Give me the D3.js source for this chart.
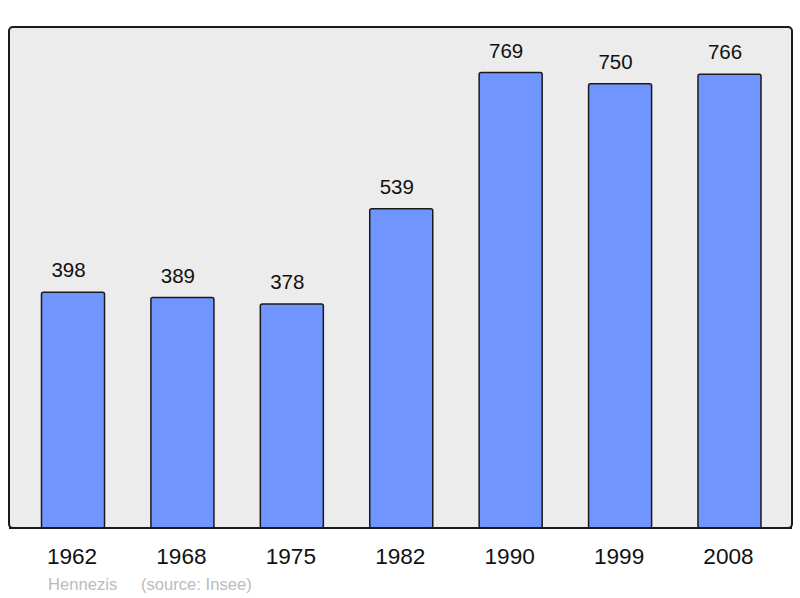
<!DOCTYPE html>
<html>
<head>
<meta charset="utf-8">
<script src="https://cdn.jsdelivr.net/npm/d3@7"></script>
<style>
  body { margin: 0; background: #fff; }
  svg { display: block; font-family: "Liberation Sans", Arial, sans-serif; }
</style>
</head>
<body>
<svg id="chart"></svg>
<script>
const width = 800;
const height = 598;

// population by census year
const years = ["1962", "1968", "1975", "1982", "1990", "1999", "2008"];
const population = [398, 389, 378, 539, 769, 750, 766];
const footerTexts = ["Hennezis", "(source: Insee)"];

const panel = {left: 9, top: 27, right: 792, bottom: 528};

const svg = d3.select("#chart")
  .attr("width", width)
  .attr("height", height);

const x = d3.scaleBand()
  .domain(years)
  .range([18.3, 784.2])
  .paddingInner(0.424)
  .paddingOuter(0.212);

const y = d3.scaleLinear()
  .domain([0, d3.max(population) * 1.1])
  .range([panel.bottom, panel.top]);

// background panel
svg.append("rect")
  .attr("x", panel.left)
  .attr("y", panel.top)
  .attr("width", panel.right - panel.left)
  .attr("height", panel.bottom - panel.top)
  .attr("rx", 4)
  .attr("fill", "#ececec")
  .attr("stroke", "#1a1a1a")
  .attr("stroke-width", 2);

const data = years.map((yr, i) => ({year: yr, value: population[i]}));

// bars
svg.append("g")
  .selectAll("rect")
  .data(data)
  .join("rect")
    .attr("x", d => x(d.year))
    .attr("y", d => y(d.value))
    .attr("width", x.bandwidth())
    .attr("height", d => y(0) - y(d.value))
    .attr("rx", 2)
    .attr("fill", "#7095ff")
    .attr("stroke", "#1a1a1a")
    .attr("stroke-width", 1.5);

// redraw bottom edge of panel over bars
svg.append("line")
  .attr("x1", panel.left)
  .attr("x2", panel.right)
  .attr("y1", panel.bottom)
  .attr("y2", panel.bottom)
  .attr("stroke", "#1a1a1a")
  .attr("stroke-width", 2);

// value labels (sit a little left of the bar centre, as in the original)
svg.append("g")
  .selectAll("text")
  .data(data)
  .join("text")
    .attr("x", d => x(d.year) + x.bandwidth() / 2 - 4.5)
    .attr("y", d => y(d.value) - 15)
    .attr("text-anchor", "middle")
    .attr("font-size", 20.5)
    .attr("fill", "#111")
    .text(d => d.value);

// year labels (axis without lines)
const xAxis = svg.append("g")
  .attr("transform", `translate(0,${panel.bottom})`)
  .call(d3.axisBottom(x).tickSize(0).tickPadding(0));
xAxis.select(".domain").remove();
xAxis.selectAll("text")
  .attr("dy", null)
  .attr("y", 36)
  .attr("x", -1)
  .attr("font-size", 22.6)
  .attr("font-family", "Liberation Sans, Arial, sans-serif")
  .attr("fill", "#111");

// footer
svg.append("text")
  .attr("x", 48)
  .attr("y", 590)
  .attr("font-size", 16.6)
  .attr("fill", "#bbbbbb")
  .text(footerTexts[0]);
svg.append("text")
  .attr("x", 141)
  .attr("y", 590)
  .attr("font-size", 16.6)
  .attr("fill", "#bbbbbb")
  .text(footerTexts[1]);
</script>
</body>
</html>
